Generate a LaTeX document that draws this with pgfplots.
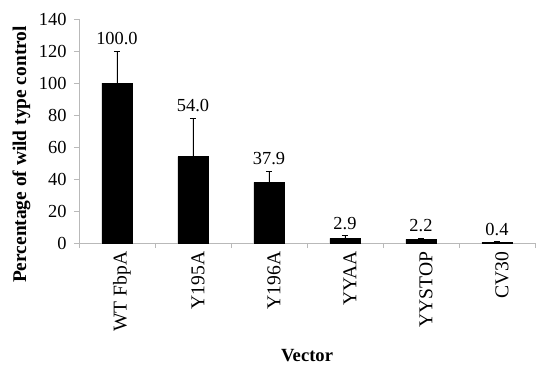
\documentclass[border=0pt]{standalone}
\usepackage{pgfplots}
\pgfplotsset{compat=1.18}
\usepackage{fontspec}
\setmainfont{Liberation Serif}
\begin{document}
\begin{tikzpicture}
\begin{axis}[
  scale only axis, width=456pt, height=224pt,
  xmin=-0.5, xmax=5.5, ymin=0, ymax=140,
  axis x line*=bottom, axis y line*=left,
  axis line style={-, draw=gray!55, line width=0.8pt},
  ytick={0,20,...,140},
  xtick={0,...,5},
  xticklabels={WT FbpA, Y195A, Y196A, YYAA, YYSTOP, CV30},
  minor xtick={-0.5,0.5,...,5.5},
  major x tick style={draw=none},
  tick style={draw=gray!55, line width=0.8pt},
  tick align=outside,
  major tick length=5pt, minor tick length=5pt,
  /pgf/number format/assume math mode=true,
  x tick label style={rotate=90, anchor=east, font=\fontsize{19.6}{21}\selectfont, yshift=-5pt},
  y tick label style={font=\fontsize{18.4}{20}\selectfont, xshift=-4pt},
  xlabel={\textbf{Vector}},
  ylabel={\textbf{Percentage of wild type control}},
  xlabel style={at={(axis description cs:0.5,-0.531)}, anchor=base, font=\fontsize{18.6}{21}\selectfont},
  ylabel style={at={(axis description cs:-0.116,0.395)}, anchor=base, font=\fontsize{19.4}{21}\selectfont},
  clip=false,
]
\addplot[ybar, bar width=0.40, fill=black, draw=black,
  error bars/.cd, y dir=plus, y explicit,
  error bar style={black, line width=0.8pt},
  error mark options={black, line width=0.8pt, mark size=3pt, rotate=90}]
  coordinates {
  (0,100.0) +- (0,20.0)
  (1,54.0) +- (0,24.0)
  (2,37.9) +- (0,7.0)
  (3,2.9) +- (0,1.6)
  (4,2.2) +- (0,0.9)
  (5,0.4) +- (0,0.3)
  };
\addplot[draw=none, mark=none, nodes near coords, point meta=explicit symbolic,
  every node near coord/.append style={anchor=south, font=\fontsize{18.4}{20}\selectfont, inner sep=3pt, yshift=3pt}]
  coordinates {
  (0,120.0) [100.0]
  (1,78.0) [54.0]
  (2,44.9) [37.9]
  (3,4.5) [2.9]
  (4,3.1) [2.2]
  (5,0.7) [0.4]
  };
\end{axis}
\pgfresetboundingbox
\path[use as bounding box] (-79pt,-122pt) rectangle (457pt,243pt);
\end{tikzpicture}
\end{document}
